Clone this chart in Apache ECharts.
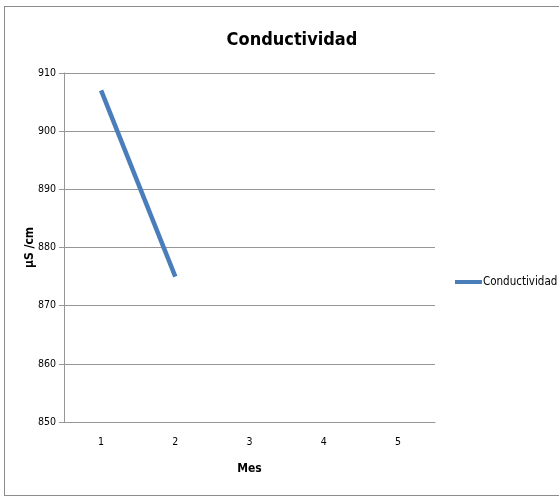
<!DOCTYPE html>
<html><head><meta charset="utf-8">
<script src="https://cdn.jsdelivr.net/npm/echarts@6/dist/echarts.min.js"></script>
<style>html,body{margin:0;padding:0;background:#fff}#c{width:559px;height:497px}
#frame{position:absolute;left:4px;top:6px;width:560px;height:488px;border:1px solid #8c8c8c;pointer-events:none}</style>
</head><body><div id="c"></div><div id="frame"></div>
<script>
const categories = ['1','2','3','4','5'];
const seriesName = 'Conductividad';
const values = [907, 875];
const yTicks = [850, 860, 870, 880, 890, 900, 910];
const font = '"DejaVu Sans Condensed", "Liberation Sans Narrow", sans-serif';
const chart = echarts.init(document.getElementById('c'), null, {renderer:'canvas'});
chart.setOption({
  animation:false,
  title:{text:'Conductividad', left:287, top:26, textAlign:'center',
    textStyle:{fontFamily:font, fontSize:18, fontWeight:'bold', color:'#000'}},
  legend:{data:[seriesName], left:450, top:271, icon:'rect', itemWidth:27, itemHeight:4, itemGap:0,
    textStyle:{fontFamily:font, fontSize:11.5, color:'#000', padding:[0,0,0,-4]}},
  grid:{left:64, top:73, width:371, height:349, containLabel:false},
  xAxis:{type:'category', data:categories, boundaryGap:true,
    name:'Mes', nameLocation:'middle', nameGap:41,
    nameTextStyle:{fontFamily:font, fontSize:12, fontWeight:'bold', color:'#000'},
    axisLine:{lineStyle:{color:'#969696'}}, axisTick:{show:false},
    axisLabel:{fontFamily:font, fontSize:10.5, color:'#000', margin:15}},
  yAxis:{type:'value', min:yTicks[0], max:yTicks[yTicks.length-1], interval:10,
    name:'µS /cm', nameLocation:'middle', nameGap:28, nameRotate:90, nameMoveOverlap:false,
    nameTextStyle:{fontFamily:font, fontSize:12, fontWeight:'bold', color:'#000'},
    axisLine:{show:true, lineStyle:{color:'#969696'}},
    axisTick:{show:true, length:5, lineStyle:{color:'#969696'}},
    axisLabel:{fontFamily:font, fontSize:10.5, color:'#000', margin:8},
    splitLine:{lineStyle:{color:'#969696'}}},
  series:[{name:seriesName, type:'line', data:values, showSymbol:false, symbol:'none',
    lineStyle:{color:'#4a7ebb', width:4.5}, itemStyle:{color:'#4a7ebb'}}]
});
</script></body></html>
